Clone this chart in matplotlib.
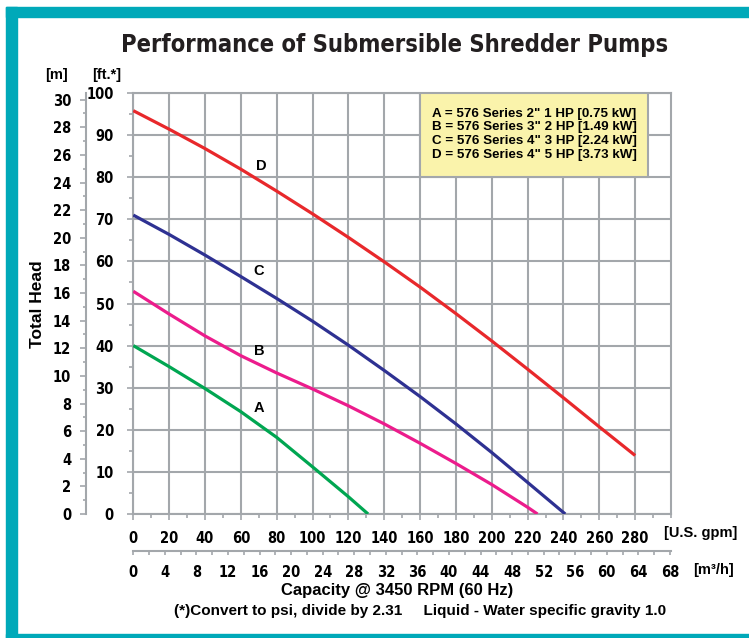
"""Performance of Submersible Shredder Pumps — pump curves"""

import matplotlib
matplotlib.use("Agg")
import matplotlib.pyplot as plt
import matplotlib.patches as mpatches
from matplotlib import font_manager as fm
from matplotlib.ticker import MultipleLocator

W, H = 749, 638
SANS = ["Liberation Sans", "DejaVu Sans"]
GRID = "#a3a7ab"
TEAL = "#00a9b9"

# 曲线数据 (U.S. gpm, ft)
gpm_a = [0, 20, 40, 60, 80, 100, 120, 131]
head_a = [40, 35, 29.8, 24.3, 18.2, 11.2, 4.1, 0]
gpm_b = [0, 20, 40, 60, 80, 100, 120, 140, 160, 180, 200, 220, 225.5]
head_b = [52.9, 47.5, 42.3, 37.6, 33.5, 29.7, 25.7, 21.4, 16.8, 12, 7, 1.6, 0]
gpm_c = [0, 20, 40, 60, 80, 100, 120, 140, 160, 180, 200, 220, 241]
head_c = [71, 66.4, 61.5, 56.4, 51.2, 45.8, 40.1, 34.1, 27.9, 21.4, 14.6, 7.5, 0]
gpm_d = [0, 20, 40, 60, 80, 100, 120, 140, 160, 180, 200, 220, 240, 260, 280]
head_d = [95.8, 91.4, 86.8, 81.9, 76.7, 71.3, 65.7, 59.9, 53.9, 47.6, 41.1, 34.4, 27.6, 20.7, 13.9]

curve_names = ["A", "B", "C", "D"]
curve_colors = ["#00a651", "#ec1c8c", "#2e3192", "#e8282b"]
label_pos = [(70, 25.2), (70.5, 38.6), (70, 57.8), (71.4, 82.6)]
legend_lines = [
    'A = 576 Series 2" 1 HP [0.75 kW]',
    'B = 576 Series 3" 2 HP [1.49 kW]',
    'C = 576 Series 4" 3 HP [2.24 kW]',
    'D = 576 Series 4" 5 HP [3.73 kW]',
]

FT_PER_M = 3.28084
GPM_PER_M3H = 4.40287

# 窄体字：有 DejaVu Sans Condensed 就用，没有就退回 Liberation Sans
_cond = fm.FontProperties(family="DejaVu Sans", stretch="condensed", weight="bold")
if "Condensed" in fm.findfont(_cond):
    NARROW = dict(fontfamily="DejaVu Sans", fontstretch="condensed", fontweight="bold")
else:
    NARROW = dict(fontfamily=SANS, fontweight="bold")
TICK_FS = 10.5


def fx(x):
    return x / W


def fy(y):
    return 1 - y / H


def px2pt(p):
    return p * 72 / 100


def style_labels(labels):
    for lab in labels:
        lab.set_fontfamily(NARROW["fontfamily"])
        lab.set_fontweight("bold")
        if "fontstretch" in NARROW:
            lab.set_fontstretch(NARROW["fontstretch"])
        lab.set_fontsize(TICK_FS)


fig = plt.figure(figsize=(W / 100, H / 100), dpi=100)
fig.patch.set_facecolor("white")

# 青色边框
for (x0, y0, w, h) in [(6, 7, W - 6, 10), (6, 7, 11, H - 7), (6, 634, W - 6, 4)]:
    fig.patches.append(mpatches.Rectangle((fx(x0), fy(y0 + h)), w / W, h / H,
                                          transform=fig.transFigure, color=TEAL, zorder=0))

ax = fig.add_axes([fx(133.3), fy(514), (671 - 133.3) / W, (514 - 93) / H])
ax.set_xlim(0, 300)
ax.set_ylim(0, 100)
ax.set_xticks(range(0, 300, 20))
ax.xaxis.set_minor_locator(MultipleLocator(10))
ax.yaxis.set_major_locator(MultipleLocator(10))
ax.yaxis.set_minor_locator(MultipleLocator(5))
ax.grid(True, which="major", color=GRID, lw=1.5)
ax.set_axisbelow(True)
for s in ax.spines.values():
    s.set_color(GRID)
    s.set_linewidth(1.5)
ax.tick_params(which="both", direction="out", color=GRID, width=1.2)
ax.tick_params(which="major", length=4, pad=10)
ax.tick_params(which="minor", length=3)
ax.tick_params(axis="x", which="major", pad=8)
style_labels(ax.get_xticklabels() + ax.get_yticklabels())

series = [(gpm_a, head_a), (gpm_b, head_b), (gpm_c, head_c), (gpm_d, head_d)]
for (xs, ys), name, color, (lx, ly) in zip(series, curve_names, curve_colors, label_pos):
    ax.plot(xs, ys, "-", color=color, lw=2.3, solid_capstyle="butt",
            solid_joinstyle="round", zorder=3)
    ax.text(lx, ly, name, fontsize=10.5, fontweight="bold", fontfamily=SANS,
            ha="center", va="center", zorder=4)

# 图例框
ax.add_patch(mpatches.Rectangle((0.534, 0.801), 0.423, 0.199, transform=ax.transAxes,
                                facecolor="#faf3ab", edgecolor=GRID, lw=1.5, zorder=5))
for i, line in enumerate(legend_lines):
    ax.text(0.556, 0.951 - i * 0.0325, line, transform=ax.transAxes, fontsize=9.6,
            fontweight="bold", fontfamily=SANS, ha="left", va="center", zorder=6)

# 米制纵轴
axm = ax.twinx()
axm.set_ylim(0, 100 / FT_PER_M)
axm.yaxis.tick_left()
axm.spines["left"].set_position(("outward", px2pt(47)))
for k in ("right", "top", "bottom"):
    axm.spines[k].set_visible(False)
axm.spines["left"].set_color(GRID)
axm.spines["left"].set_linewidth(1.5)
axm.yaxis.set_major_locator(MultipleLocator(2))
axm.yaxis.set_minor_locator(MultipleLocator(1))
axm.tick_params(which="both", direction="out", color=GRID, width=1.2)
axm.tick_params(which="major", length=4, pad=7)
axm.tick_params(which="minor", length=2.5)
style_labels(axm.get_yticklabels())

# m3/h 横轴
axq = ax.twiny()
axq.set_xlim(0, 300 / GPM_PER_M3H)
axq.xaxis.tick_bottom()
axq.spines["bottom"].set_position(("outward", px2pt(37)))
for k in ("right", "top", "left"):
    axq.spines[k].set_visible(False)
axq.spines["bottom"].set_color(GRID)
axq.spines["bottom"].set_linewidth(1.5)
axq.set_xticks(range(0, 69, 4))
axq.xaxis.set_minor_locator(MultipleLocator(2))
axq.tick_params(which="both", direction="out", color=GRID, width=1.2, length=3)
axq.tick_params(which="major", pad=7)
style_labels(axq.get_xticklabels())

# 标题：按参考宽度 (~548 px) 缩放字号
title = fig.text(fx(395), fy(45), "Performance of Submersible Shredder Pumps", fontsize=20,
                 ha="center", va="center", color="#231f20", **NARROW)
renderer = fig.canvas.get_renderer()
tw = title.get_window_extent(renderer).width
title.set_fontsize(20 * 548 / tw)

fig.text(fx(57), fy(75), "[m]", fontsize=10.5, fontweight="bold", fontfamily=SANS,
         ha="center", va="center")
fig.text(fx(107), fy(75), "[ft.*]", fontsize=10.5, fontweight="bold", fontfamily=SANS,
         ha="center", va="center")
fig.text(fx(37), fy(304), "Total Head", fontsize=12.5, fontweight="bold", fontfamily=SANS,
         rotation=90, ha="center", va="center")
fig.text(fx(701), fy(533), "[U.S. gpm]", fontsize=10.5, fontweight="bold", fontfamily=SANS,
         ha="center", va="center")
fig.text(fx(714), fy(570), "[m³/h]", fontsize=10.5, fontweight="bold", fontfamily=SANS,
         ha="center", va="center")
fig.text(fx(397), fy(591), "Capacity @ 3450 RPM (60 Hz)", fontsize=12, fontweight="bold",
         fontfamily=SANS, ha="center", va="center")
fig.text(fx(420), fy(611),
         "(*)Convert to psi, divide by 2.31     Liquid - Water specific gravity 1.0",
         fontsize=11, fontweight="bold", fontfamily=SANS, ha="center", va="center")

fig.savefig("out.png", dpi=100)
plt.close(fig)
